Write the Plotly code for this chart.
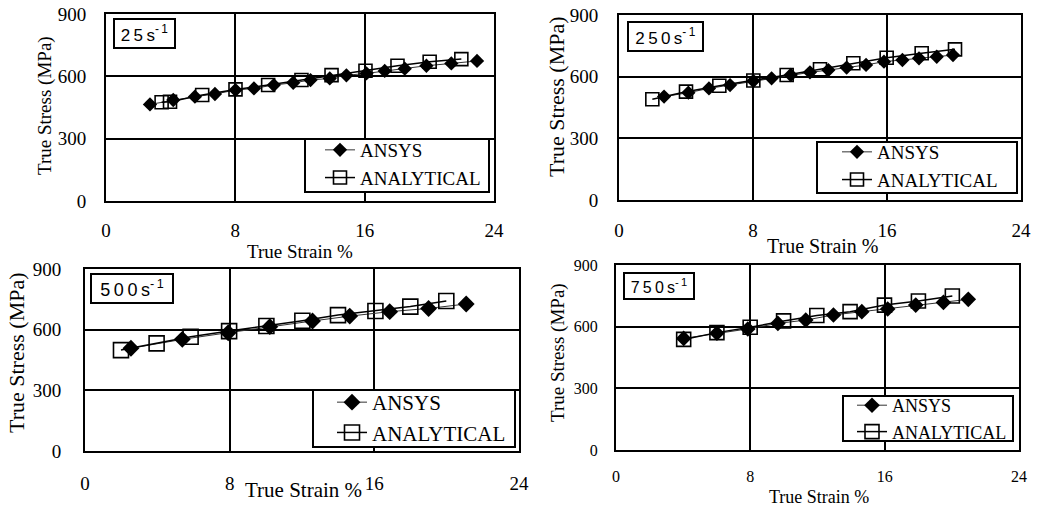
import plotly.graph_objects as go

W, H = 1041, 508

# ---------------- data ----------------
rates = ["25", "250", "500", "750"]

strain_ansys_25 = [2.72, 4.16, 5.5, 6.74, 8.01, 9.15, 10.38, 11.58, 12.65, 13.84, 14.87, 16.11, 17.24, 18.48, 19.82, 21.36, 22.95]
stress_ansys_25 = [465, 486, 502, 515, 534, 542, 558, 569, 582, 590, 605, 614, 626, 637, 651, 662, 674]
strain_anal_25 = [3.44, 3.96, 5.95, 8.01, 10.03, 12.09, 13.95, 16.05, 18.03, 20.02, 21.98]
stress_anal_25 = [475, 478, 510, 537, 558, 582, 606, 627, 651, 670, 683]

strain_ansys_250 = [2.69, 4.14, 5.37, 6.63, 8.02, 9.11, 10.25, 11.40, 12.50, 13.59, 14.75, 15.82, 16.92, 17.91, 18.97, 19.94]
stress_ansys_250 = [503, 522, 543, 559, 579, 592, 608, 621, 632, 644, 657, 673, 681, 689, 697, 705]
strain_anal_250 = [1.99, 4.0, 5.99, 8.02, 10.01, 12.0, 13.99, 15.98, 18.07, 20.06]
stress_anal_250 = [490, 527, 556, 581, 608, 636, 665, 692, 714, 733]

strain_ansys_500 = [2.54, 5.38, 7.92, 10.22, 12.58, 14.64, 16.85, 19.0, 21.08]
stress_ansys_500 = [508, 552, 585, 615, 643, 667, 689, 705, 727]
strain_anal_500 = [1.99, 3.96, 5.84, 7.97, 10.03, 12.02, 13.99, 16.06, 17.99, 19.98]
stress_anal_500 = [499, 532, 565, 593, 618, 644, 672, 692, 714, 742]

strain_ansys_750 = [4.03, 6.01, 7.85, 9.64, 11.30, 12.95, 14.64, 16.18, 17.85, 19.50, 20.98]
stress_ansys_750 = [543, 568, 589, 616, 632, 657, 673, 686, 705, 718, 733]
strain_anal_750 = [4.03, 6.01, 7.99, 9.98, 11.96, 13.94, 15.99, 18.01, 20.03]
stress_anal_750 = [538, 571, 597, 628, 654, 673, 705, 725, 749]

x_ticks = [0, 8, 16, 24]
y_ticks = [0, 300, 600, 900]
x_title = "True Strain %"
y_title = "True Stress (MPa)"
series_names = ["ANSYS", "ANALYTICAL"]

panels = [
    (strain_ansys_25, stress_ansys_25, strain_anal_25, stress_anal_25),
    (strain_ansys_250, stress_ansys_250, strain_anal_250, stress_anal_250),
    (strain_ansys_500, stress_ansys_500, strain_anal_500, stress_anal_500),
    (strain_ansys_750, stress_ansys_750, strain_anal_750, stress_anal_750),
]

# ---------------- layout (pixel geometry) ----------------
def px(x):
    return x / W

def py(y):
    return 1 - y / H

areas = [(106, 494, 14, 201), (619, 1021, 15, 200), (85, 519, 269, 451), (616, 1019, 265, 450)]
tick_font = [19, 19, 19, 16]
ytick_gap = [14, 15, 18, 13]
xtick_gap = [11, 12, 14, 11]
ytitle = [(45, 106, 19), (556, 97, 22), (16, 353, 22), (558, 353, 19)]
xtitle = [(300, 251, 19), (822, 246, 20), (303, 490, 21), (819, 497, 18)]
rate_box = [(144.5, 33.5, 63, 31, 17), (665.5, 36.5, 77, 31, 17), (132, 288.5, 84, 31, 18), (659, 286, 72, 28, 16)]
# legend frame: left, right, top, bottom ; text start x ; legend top y ; font
leg_box = [(305, 489, 139, 192), (817, 1017, 142, 193), (313, 515, 390, 447), (843, 1013, 396, 441)]
leg_text_x = [362, 879, 374, 894]
leg_top_y = [131, 133, 382, 387]
leg_font = [19, 19, 21, 18]
marker_sz = [(11, 13), (11, 13), (13, 15), (12, 14)]

SERIF = "Liberation Serif, Times New Roman, serif"
SANS = "Liberation Sans, Arial, sans-serif"
fig = go.Figure()
layout = dict(
    width=W, height=H, margin=dict(l=0, r=0, t=0, b=0, autoexpand=False),
    paper_bgcolor="white", plot_bgcolor="white",
    font=dict(family=SERIF, color="black", size=19),
    annotations=[], shapes=[], showlegend=True,
)

for i, (xa, ya, xb, yb) in enumerate(panels):
    n = "" if i == 0 else str(i + 1)
    legname = "legend" + n
    fig.add_trace(go.Scatter(
        x=xa, y=ya, name=series_names[0], mode="lines+markers",
        line=dict(color="#333333", width=1),
        marker=dict(symbol="diamond", size=marker_sz[i][0], color="black"),
        xaxis="x" + n, yaxis="y" + n, legend=legname, showlegend=True))
    fig.add_trace(go.Scatter(
        x=xb, y=yb, name=series_names[1], mode="lines+markers",
        line=dict(color="black", width=1.5),
        marker=dict(symbol="square-open", size=marker_sz[i][1], color="black", line=dict(width=1.6)),
        xaxis="x" + n, yaxis="y" + n, legend=legname, showlegend=True))

    l, r, t, b = areas[i]
    layout["xaxis" + n] = dict(
        domain=[px(l), px(r)], range=[0, 24], tickvals=x_ticks, anchor="y" + n,
        showgrid=True, gridcolor="black", gridwidth=1.5, zeroline=False, automargin=False,
        showline=True, linecolor="black", linewidth=2, mirror=True, ticks="",
        ticklabelstandoff=xtick_gap[i], tickfont=dict(family=SERIF, size=tick_font[i], color="black"))
    layout["yaxis" + n] = dict(
        domain=[py(b), py(t)], range=[0, 900], tickvals=y_ticks, anchor="x" + n,
        showgrid=True, gridcolor="black", gridwidth=1.5, zeroline=False, automargin=False,
        showline=True, linecolor="black", linewidth=2, mirror=True, ticks="",
        ticklabelstandoff=ytick_gap[i], tickfont=dict(family=SERIF, size=tick_font[i], color="black"))

    yx, yy, yfs = ytitle[i]
    layout["annotations"].append(dict(
        text=y_title, xref="paper", yref="paper", x=px(yx), y=py(yy),
        xanchor="center", yanchor="middle", textangle=-90, showarrow=False,
        font=dict(family=SERIF, size=yfs, color="black")))
    xx, xy, xfs = xtitle[i]
    layout["annotations"].append(dict(
        text=x_title, xref="paper", yref="paper", x=px(xx), y=py(xy),
        xanchor="center", yanchor="middle", showarrow=False,
        font=dict(family=SERIF, size=xfs, color="black")))

    cx, cy, bw, bh, bfs = rate_box[i]
    label = "\u2009".join(list(rates[i] + "s")) + "<sup>-\u20091</sup>"
    layout["annotations"].append(dict(
        text=label, xref="paper", yref="paper", x=px(cx), y=py(cy),
        xanchor="center", yanchor="middle", showarrow=False,
        width=bw - 6, height=bh - 6, borderpad=1, borderwidth=2,
        bordercolor="black", bgcolor="white", align="center", valign="middle",
        font=dict(family=SANS, size=bfs, color="black")))

    bl, br, bt, bb = leg_box[i]
    layout["shapes"].append(dict(
        type="rect", xref="paper", yref="paper",
        x0=px(bl), x1=px(br), y0=py(bb), y1=py(bt),
        line=dict(color="black", width=2), fillcolor="white", layer="above"))
    layout[legname] = dict(
        x=px(leg_text_x[i] - 42), y=py(leg_top_y[i]), xanchor="left", yanchor="top",
        xref="paper", yref="paper",
        bgcolor="rgba(0,0,0,0)", borderwidth=0,
        font=dict(family=SERIF, size=leg_font[i], color="black"),
        tracegroupgap=0, itemwidth=30)

fig.update_layout(**layout)
fig.write_html("out.html", config={"displayModeBar": False},
               post_script="document.body.style.margin='0px';document.body.style.padding='0px';")
